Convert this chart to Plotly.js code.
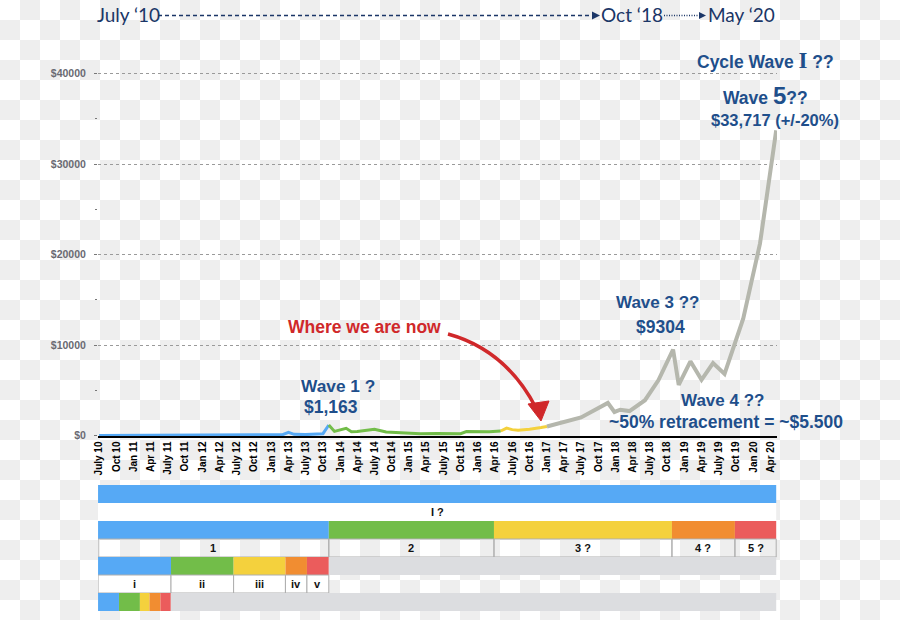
<!DOCTYPE html>
<html>
<head>
<meta charset="utf-8">
<script src="https://cdn.plot.ly/plotly-3.0.1.min.js"></script>
<style>
html,body{margin:0;padding:0;}
body{width:900px;height:620px;background-color:#fff;
background-image:conic-gradient(#eeeeee 25%, #ffffff 0 50%, #eeeeee 0 75%, #ffffff 0);
background-size:40px 40px;}
#chart{width:900px;height:620px;}
</style>
</head>
<body>
<div id="chart"></div>
<script>
// ---------- DATA ----------
const tickDates = ["2010-07-01","2010-10-01","2011-01-01","2011-04-01","2011-07-01","2011-10-01",
  "2012-01-01","2012-04-01","2012-07-01","2012-10-01","2013-01-01","2013-04-01","2013-07-01","2013-10-01",
  "2014-01-01","2014-04-01","2014-07-01","2014-10-01","2015-01-01","2015-04-01","2015-07-01","2015-10-01",
  "2016-01-01","2016-04-01","2016-07-01","2016-10-01","2017-01-01","2017-04-01","2017-07-01","2017-10-01",
  "2018-01-01","2018-04-01","2018-07-01","2018-10-01","2019-01-01","2019-04-01","2019-07-01","2019-10-01",
  "2020-01-01","2020-04-01"];
const tickLabels = ["July 10","Oct 10","Jan 11","Apr 11","July 11","Oct 11",
  "Jan 12","Apr 12","July 12","Oct 12","Jan 13","Apr 13","July 13","Oct 13",
  "Jan 14","Apr 14","July 14","Oct 14","Jan 15","Apr 15","July 15","Oct 15",
  "Jan 16","Apr 16","July 16","Oct 16","Jan 17","Apr 17","July 17","Oct 17",
  "Jan 18","Apr 18","July 18","Oct 18","Jan 19","Apr 19","July 19","Oct 19",
  "Jan 20","Apr 20"];
const yTickValues = [0, 10000, 20000, 30000, 40000];
const yTickText   = ["$0", "$10000", "$20000", "$30000", "$40000"];

// price path, split by coloured segment
const wave1Dates  = ["2010-07-01","2011-06-01","2011-11-01","2012-08-01","2013-01-01","2013-03-01","2013-04-01","2013-05-01","2013-07-01","2013-10-01","2013-11-01"];
const wave1Values = [0.07, 18, 3, 10, 20, 90, 350, 130, 100, 200, 1163];
const wave2Dates  = ["2013-11-01","2013-12-01","2014-02-01","2014-03-01","2014-04-01","2014-06-01","2014-07-01","2014-09-01","2014-12-01","2015-03-01","2015-06-01","2015-10-01","2015-11-01","2015-12-01","2016-01-01","2016-03-01","2016-05-01"];
const wave2Values = [1163, 450, 800, 420, 450, 650, 700, 380, 320, 200, 230, 200, 430, 420, 380, 410, 500];
const wave3Dates  = ["2016-05-01","2016-06-01","2016-07-01","2016-08-01","2016-10-01","2016-11-01","2016-12-01","2017-01-01"];
const wave3Values = [500, 820, 650, 580, 680, 740, 880, 1000];
const projDates   = ["2017-01-01","2017-03-01","2017-07-01","2017-11-20","2017-12-25","2018-01-25","2018-03-15","2018-06-05","2018-08-15","2018-11-01","2018-12-01","2019-02-01","2019-04-01","2019-06-01","2019-08-01","2019-11-08","2020-02-05","2020-05-01"];
const projValues  = [1000, 1350, 2000, 3600, 2600, 2850, 2700, 3900, 6100, 9500, 5600, 8200, 6150, 8000, 6800, 12900, 21200, 33717];

// wave bands below the chart
const cycleBounds   = ["2010-06-26","2020-05-01"];
const cycleLabels   = ["I ?"];
const primaryBounds = ["2010-06-26","2013-11-01","2016-03-26","2018-10-26","2019-09-25","2020-05-01"];
const primaryLabels = ["1","2","3 ?","4 ?","5 ?"];
const minorBounds   = ["2010-06-26","2011-07-18","2012-06-14","2013-03-16","2013-07-08","2013-11-01"];
const minorLabels   = ["i","ii","iii","iv","v"];
const subBounds     = ["2010-06-26","2010-10-15","2011-02-03","2011-03-26","2011-05-23","2011-07-17"];
const waveColors    = ["#56a9f5","#72bd49","#f4d13d","#f18d31","#eb5c5c"];

// ---------- GEOMETRY HELPERS ----------
const L = 98, R = 777, T = 60, B = 436;
const px = p => (p - L) / (R - L);
const py = p => (B - p) / (B - T);
const mid = (a, b) => (Date.parse(a) + Date.parse(b)) / 2;

const navy = "#1f4f8b";
const hdr = "#1b3667";
const red = "#d0282a";
const sans = "Liberation Sans, Arial, sans-serif";
const GRAY = "#dcdde0";
const BORDER = "#aeaeae";

const traces = [
  {x: wave1Dates, y: wave1Values, color: waveColors[0], w: 3},
  {x: wave2Dates, y: wave2Values, color: waveColors[1], w: 3},
  {x: wave3Dates, y: wave3Values, color: waveColors[2], w: 3},
  {x: projDates,  y: projValues,  color: "#b5b7ad", w: 4}
].map(s => ({type: "scatter", mode: "lines", x: s.x, y: s.y, cliponaxis: false,
  line: {color: s.color, width: s.w}, hoverinfo: "skip"}));

const shapes = [];
const annotations = [];

function band(bounds, colors, yTop, yBot) {
  for (let i = 0; i < bounds.length - 1; i++) {
    shapes.push({type: "rect", xref: "x", yref: "paper", x0: bounds[i], x1: bounds[i+1],
      y0: py(yBot), y1: py(yTop), fillcolor: colors[i], line: {width: 0}, layer: "above"});
  }
}
function labelRow(bounds, labels, yTop, yBot, fill, border) {
  for (let i = 0; i < bounds.length - 1; i++) {
    shapes.push({type: "rect", xref: "x", yref: "paper", x0: bounds[i], x1: bounds[i+1],
      y0: py(yBot), y1: py(yTop), fillcolor: fill,
      line: border ? {width: 1, color: BORDER} : {width: 0}, layer: "above"});
    annotations.push({xref: "x", yref: "paper", x: mid(bounds[i], bounds[i+1]), y: py((yTop + yBot) / 2),
      text: labels[i], showarrow: false, xanchor: "center", yanchor: "middle",
      font: {family: sans, size: 11, color: "#111", weight: "bold"}});
  }
}

// row 1: cycle
band(cycleBounds, [waveColors[0]], 485, 503);
labelRow(cycleBounds, cycleLabels, 503, 521, "#ffffff", false);
// row 2: primary waves
band(primaryBounds, waveColors, 521, 539);
labelRow(primaryBounds, primaryLabels, 539, 557, "rgba(0,0,0,0)", true);
// row 3: minor waves of wave 1
band(minorBounds, waveColors, 557, 575);
band([minorBounds[minorBounds.length-1], cycleBounds[1]], [GRAY], 557, 575);
labelRow(minorBounds, minorLabels, 575, 593, "#ffffff", true);
// row 4: sub-waves of wave i
band(subBounds, waveColors, 593, 611);
band([subBounds[subBounds.length-1], cycleBounds[1]], [GRAY], 593, 611);

// ---------- header timeline ----------
const hdrFont = {family: "Lato, Open Sans, sans-serif", size: 19, color: hdr};
annotations.push({xref: "paper", yref: "paper", x: px(95), y: py(15), xanchor: "left", yanchor: "middle",
  text: "July \u201810", showarrow: false, font: hdrFont});
annotations.push({xref: "paper", yref: "paper", x: px(599), y: py(15), xanchor: "left", yanchor: "middle",
  text: "Oct \u201818", showarrow: false, font: hdrFont});
annotations.push({xref: "paper", yref: "paper", x: px(706), y: py(15), xanchor: "left", yanchor: "middle",
  text: "May \u201820", showarrow: false, font: hdrFont});
shapes.push({type: "line", xref: "paper", yref: "paper", x0: px(158), x1: px(593), y0: py(15.5), y1: py(15.5),
  line: {color: hdr, width: 1.6, dash: "4px,3px"}});
shapes.push({type: "path", xref: "paper", yref: "paper",
  path: `M ${px(592)} ${py(11.5)} L ${px(600)} ${py(15.5)} L ${px(592)} ${py(19.5)} Z`,
  fillcolor: hdr, line: {width: 0}});
shapes.push({type: "line", xref: "paper", yref: "paper", x0: px(664), x1: px(700), y0: py(15.5), y1: py(15.5),
  line: {color: hdr, width: 1.4, dash: "1px,1.5px"}});
shapes.push({type: "path", xref: "paper", yref: "paper",
  path: `M ${px(699)} ${py(12)} L ${px(706)} ${py(15.5)} L ${px(699)} ${py(19)} Z`,
  fillcolor: hdr, line: {width: 0}});

// ---------- chart annotations ----------
function note(text, cx, cy, size, color) {
  annotations.push({xref: "paper", yref: "paper", x: px(cx), y: py(cy), xanchor: "center", yanchor: "middle",
    text: text, showarrow: false, font: {family: sans, size: size, color: color, weight: "bold"}});
}
note('Cycle Wave <span style="font-family:Liberation Serif,serif;font-size:23px">I</span> ??', 765, 60, 17.5, navy);
note('Wave <span style="font-size:24px">5</span>??', 765, 95, 17.5, navy);
note("$33,717 (+/-20%)", 774.5, 120, 16.5, navy);
note("Wave 3 ??", 657.5, 302, 17, navy);
note("$9304", 660, 327, 17.5, navy);
note("Wave 4 ??", 722.5, 400, 17, navy);
note("~50% retracement = ~$5.500", 726, 422, 17.5, navy);
note("Wave 1 ?", 337.5, 386, 17.3, navy);
note("$1,163", 330.5, 407, 17.5, navy);
note("Where we are now", 364.5, 327, 17.5, red);

// red curved arrow
shapes.push({type: "path", xref: "paper", yref: "paper",
  path: `M ${px(448)} ${py(334)} Q ${px(506)} ${py(350)} ${px(536)} ${py(408)}`,
  line: {color: red, width: 3.5}, layer: "above"});
shapes.push({type: "path", xref: "paper", yref: "paper",
  path: `M ${px(528)} ${py(404)} L ${px(549)} ${py(401)} L ${px(541)} ${py(421)} Z`,
  fillcolor: red, line: {color: red, width: 1}, layer: "above"});

const layout = {
  width: 900, height: 620,
  margin: {l: L, r: 900 - R, t: T, b: 620 - B},
  paper_bgcolor: "rgba(0,0,0,0)", plot_bgcolor: "rgba(0,0,0,0)",
  showlegend: false, hovermode: false,
  xaxis: {
    type: "date", range: ["2010-06-25 18:00", "2020-05-05 06:00"],
    tickmode: "array", tickvals: tickDates, ticktext: tickLabels, tickangle: -90,
    tickfont: {family: sans, size: 10, color: "#000", weight: "bold"},
    showline: true, linecolor: "#000", linewidth: 1.5, showgrid: false, zeroline: false, ticks: ""
  },
  yaxis: {
    range: [-55, 41492], tickmode: "array", tickvals: yTickValues, ticktext: yTickText,
    showgrid: true, gridcolor: "#9a9a9a", griddash: "dot", gridwidth: 1, zeroline: false,
    ticks: "outside", ticklen: 3, tickcolor: "#777", ticklabelstandoff: 6,
    minor: {tickmode: "linear", tick0: 0, dtick: 5000, ticks: "outside", ticklen: 2, tickcolor: "#777", showgrid: false},
    tickfont: {family: sans, size: 10.5, color: "#6a6a72", weight: "bold"}
  },
  shapes: shapes,
  annotations: annotations
};

Plotly.newPlot("chart", traces, layout, {staticPlot: true, displayModeBar: false});
</script>
</body>
</html>
